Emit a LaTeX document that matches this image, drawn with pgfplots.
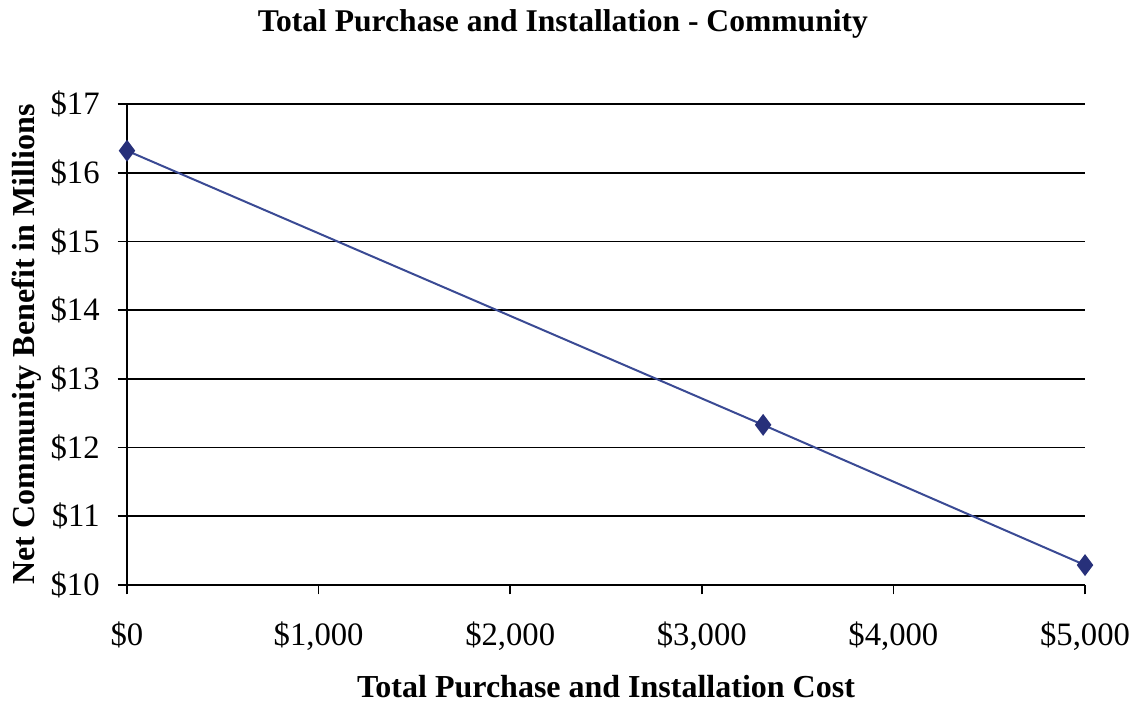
\documentclass[border=0pt]{standalone}
\usepackage{pgfplots}
\pgfplotsset{compat=1.18}
\usepackage{fontspec}
\setmainfont{Liberation Serif}
\definecolor{lineblue}{HTML}{3A4A94}
\definecolor{markblue}{HTML}{27307A}
\begin{document}
\begin{tikzpicture}[x=1pt,y=1pt]
\begin{axis}[
  scale only axis,
  width=718.5pt, height=360.75pt,
  xmin=0, xmax=5000, ymin=10, ymax=17,
  axis x line*=bottom, axis y line*=left,
  axis line style={black, line width=1.2pt},
  tick align=outside,
  major tick length=7pt,
  tick style={black, line width=1.2pt},
  xtick={0,1000,2000,3000,4000,5000},
  xticklabels={\$0,\$1{,}000,\$2{,}000,\$3{,}000,\$4{,}000,\$5{,}000},
  ytick={10,11,12,13,14,15,16,17},
  yticklabels={\$10,\$11,\$12,\$13,\$14,\$15,\$16,\$17},
  ymajorgrids,
  grid style={black, line width=1.2pt},
  ticklabel style={font=\fontsize{24.5}{28}\selectfont},
  xticklabel style={yshift=-17pt},
  yticklabel style={xshift=-10pt},
  title={\textbf{Total Purchase and Installation - Community}},
  title style={font=\fontsize{23.7}{28}\selectfont, at={(0.455,1)}, yshift=39.5pt},
  xlabel={\textbf{Total Purchase and Installation Cost}},
  xlabel style={font=\fontsize{24}{28}\selectfont, yshift=-11.5pt},
  ylabel={\textbf{Net Community Benefit in Millions}},
  ylabel style={font=\fontsize{24}{28}\selectfont, yshift=0pt},
  clip=false,
]
\addplot[lineblue, line width=1.5pt, mark=diamond*, mark size=7pt,
  mark options={fill=markblue, draw=markblue}] coordinates {
  (0,16.32) (3320,12.33) (5000,10.29)
};
\end{axis}
\pgfresetboundingbox
\path (current axis.south west) ++(-95.25pt,-88.5pt) rectangle ++(850.5pt,527.25pt);
\end{tikzpicture}
\end{document}
